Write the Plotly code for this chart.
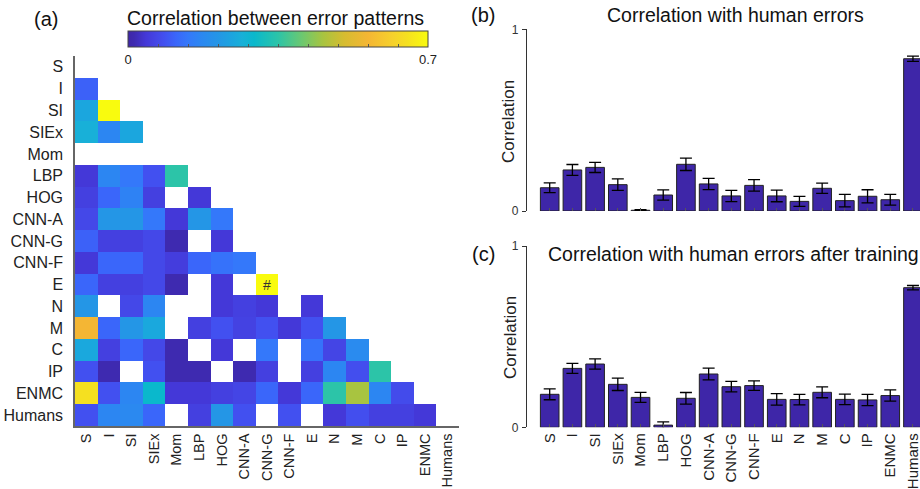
import plotly.graph_objects as go

W, H = 920, 489
FONT = "Liberation Sans, Arial, sans-serif"

labels = ["S", "I", "SI", "SIEx", "Mom", "LBP", "HOG", "CNN-A", "CNN-G",
          "CNN-F", "E", "N", "M", "C", "IP", "ENMC", "Humans"]

# lower-triangular correlation between error patterns (None = not shown)
corr_rows = [
    [],
    [0.105],
    [0.245, 0.70],
    [0.266, 0.168, 0.245],
    [],
    [0.042, 0.168, 0.14, 0.084, 0.35],
    [0.056, 0.112, 0.16, 0.056, None, 0.042],
    [0.07, 0.21, 0.21, 0.14, 0.042, 0.21, 0.14],
    [0.105, 0.056, 0.056, 0.07, 0.014, None, 0.042, None],
    [0.042, 0.112, 0.112, 0.07, 0.05, 0.112, 0.13, 0.14, None],
    [0.112, 0.056, 0.056, 0.07, 0.014, None, 0.042, None, 0.70, None],
    [0.21, None, 0.07, 0.168, None, None, 0.042, 0.056, 0.042, None, 0.042],
    [0.56, 0.112, 0.21, 0.25, None, 0.056, 0.084, 0.06, 0.084, 0.042, 0.084, 0.21],
    [0.25, 0.056, 0.112, 0.07, 0.014, None, 0.042, None, 0.14, None, 0.13, 0.065, 0.18],
    [0.084, 0.014, None, 0.084, 0.014, 0.014, None, 0.014, 0.056, None, 0.056, 0.168, 0.08, 0.35],
    [0.651, 0.084, 0.168, 0.294, 0.042, 0.042, 0.056, 0.065, 0.112, 0.042, 0.112, 0.35, 0.455, 0.168, 0.075],
    [0.084, 0.168, 0.175, 0.112, None, 0.056, 0.21, 0.084, None, 0.084, None, 0.042, 0.08, 0.056, 0.056, 0.042],
]
hash_cell = ("CNN-G", "E")

human_corr = [0.128, 0.226, 0.24, 0.145, 0.004, 0.088, 0.257, 0.149, 0.083,
              0.141, 0.083, 0.053, 0.125, 0.057, 0.081, 0.062, 0.838]
human_err = [0.027, 0.030, 0.028, 0.032, 0.003, 0.028, 0.034, 0.031, 0.031,
             0.032, 0.032, 0.028, 0.028, 0.034, 0.036, 0.030, 0.014]

trained_corr = [0.182, 0.325, 0.349, 0.237, 0.165, 0.012, 0.16, 0.294, 0.224,
                0.23, 0.154, 0.153, 0.193, 0.154, 0.151, 0.175, 0.77]
trained_err = [0.030, 0.028, 0.028, 0.034, 0.028, 0.018, 0.032, 0.032, 0.029,
               0.026, 0.032, 0.029, 0.030, 0.029, 0.031, 0.031, 0.012]

parula = [
    [0.00, "#3E26A8"], [0.02, "#3E2AB0"], [0.06, "#4438D8"], [0.08, "#4440E0"],
    [0.10, "#4448E8"], [0.12, "#4250F0"], [0.16, "#3A66FA"], [0.20, "#3478FA"],
    [0.24, "#2C86F2"], [0.30, "#2496E6"], [0.35, "#1BA6DE"], [0.38, "#18B0D8"],
    [0.42, "#0AB8CC"], [0.50, "#2CC4A8"], [0.58, "#6CC870"], [0.65, "#A8C440"],
    [0.72, "#D6BC30"], [0.80, "#F4B634"], [0.88, "#F6D02C"], [0.93, "#F5E020"],
    [1.00, "#F9FB0E"],
]

n = len(labels)
z = [list(r) + [None] * (n - len(r)) for r in corr_rows]

def px_x(p):
    return p / W

def px_y(p):
    return 1 - p / H

fig = go.Figure()

cb_ticks = [round(0.07 * i, 2) for i in range(11)]
cb_text = ["0"] + [""] * 9 + ["0.7"]
fig.add_trace(go.Heatmap(
    z=z, x=list(range(n)), y=list(range(n)),
    zmin=0, zmax=0.7, colorscale=parula, xaxis="x", yaxis="y",
    hoverongaps=False,
    colorbar=dict(orientation="h", x=px_x(278), xanchor="center",
                  y=px_y(31), yanchor="top", len=300 / W, lenmode="fraction",
                  thickness=16, thicknessmode="pixels", outlinewidth=1,
                  outlinecolor="#444", tickvals=cb_ticks, ticktext=cb_text,
                  ticks="inside", ticklen=3, tickcolor="#555",
                  tickfont=dict(size=13, color="#222", family=FONT),
                  xpad=0, ypad=0),
))

bar_color = "#3E26A8"
xs = list(range(1, n + 1))
fig.add_trace(go.Bar(
    x=xs, y=human_corr, xaxis="x2", yaxis="y2", width=0.82,
    marker=dict(color=bar_color, line=dict(color="#222", width=1)),
    error_y=dict(type="data", array=human_err, color="black", thickness=1.3, width=6),
    showlegend=False,
))
fig.add_trace(go.Bar(
    x=xs, y=trained_corr, xaxis="x3", yaxis="y3", width=0.82,
    marker=dict(color=bar_color, line=dict(color="#222", width=1)),
    error_y=dict(type="data", array=trained_err, color="black", thickness=1.3, width=6),
    showlegend=False,
))

ytick_font = dict(size=16, color="#222", family=FONT)
xtick_font = dict(size=15, color="#222", family=FONT)
hm_xtick_font = dict(size=14.5, color="#222", family=FONT)
small_font = dict(size=12, color="#333", family=FONT)

fig.update_layout(
    width=W, height=H, margin=dict(l=0, r=0, t=0, b=0, autoexpand=False),
    paper_bgcolor="white", plot_bgcolor="white", showlegend=False,
    font=dict(family=FONT, color="#222"),
    xaxis=dict(domain=[px_x(75), px_x(459)], range=[-0.5, n - 0.5],
               tickvals=list(range(n)), ticktext=labels, tickangle=-90,
               tickfont=hm_xtick_font, showline=True, linecolor="#666", linewidth=1.5,
               ticks="", showgrid=False, zeroline=False, anchor="y",
               ticklabelstandoff=0, ticklabeloverflow="allow", automargin=False),
    yaxis=dict(domain=[px_y(426), px_y(56)], range=[n - 0.5, -0.5],
               tickvals=list(range(n)), ticktext=labels, tickfont=ytick_font,
               showline=True, linecolor="#666", linewidth=1.5, ticks="",
               showgrid=False, zeroline=False, anchor="x", ticklabelstandoff=7,
               automargin=False),
    xaxis2=dict(domain=[px_x(527), 1.0], range=[0, 17.31], tickvals=xs,
                showticklabels=False, ticks="inside", ticklen=3, tickcolor="#555",
                showline=False, showgrid=False, zeroline=False, anchor="y2",
                automargin=False),
    yaxis2=dict(domain=[px_y(211), px_y(29.3)], range=[0, 1], tickvals=[0, 1],
                ticktext=["0", "1"], ticks="outside", ticklen=4, tickcolor="#333",
                tickfont=small_font, showline=True, linecolor="#333", linewidth=1.2,
                showgrid=False, zeroline=False, anchor="x2", ticklabelstandoff=1,
                automargin=False),
    xaxis3=dict(domain=[px_x(527), 1.0], range=[0, 17.31], tickvals=xs,
                ticktext=labels, tickangle=-90, tickfont=xtick_font,
                ticks="inside", ticklen=3, tickcolor="#555",
                showline=False, showgrid=False, zeroline=False, anchor="y3",
                ticklabelstandoff=2, ticklabeloverflow="allow", automargin=False),
    yaxis3=dict(domain=[px_y(427.3), px_y(246)], range=[0, 1], tickvals=[0, 1],
                ticktext=["0", "1"], ticks="outside", ticklen=4, tickcolor="#333",
                tickfont=small_font, showline=True, linecolor="#333", linewidth=1.2,
                showgrid=False, zeroline=False, anchor="x3", ticklabelstandoff=1,
                automargin=False),
    bargap=0.18,
)

big = dict(size=19.5, color="#111", family=FONT)
lab = dict(size=20, color="#111", family=FONT)
ann = [
    dict(text="(a)", x=px_x(46), y=px_y(19), font=lab),
    dict(text="Correlation between error patterns", x=px_x(275), y=px_y(18), font=big),
    dict(text="(b)", x=px_x(483), y=px_y(15), font=lab),
    dict(text="Correlation with human errors", x=px_x(735.5), y=px_y(15.5), font=big),
    dict(text="(c)", x=px_x(483), y=px_y(254), font=lab),
    dict(text="Correlation with human errors after training", x=px_x(733), y=px_y(253.5), font=big),
    dict(text="Correlation", x=px_x(508), y=px_y(122), textangle=-90,
         font=dict(size=17, color="#222", family=FONT)),
    dict(text="Correlation", x=px_x(510), y=px_y(338), textangle=-90,
         font=dict(size=17, color="#222", family=FONT)),
]
for a in ann:
    a.update(xref="paper", yref="paper", showarrow=False, xanchor="center", yanchor="middle")
fig.update_layout(annotations=ann)
fig.add_annotation(x=labels.index(hash_cell[0]), y=labels.index(hash_cell[1]),
                   xref="x", yref="y", text="#", showarrow=False,
                   font=dict(size=14, color="#333", family=FONT))

fig.write_html("out.html")
